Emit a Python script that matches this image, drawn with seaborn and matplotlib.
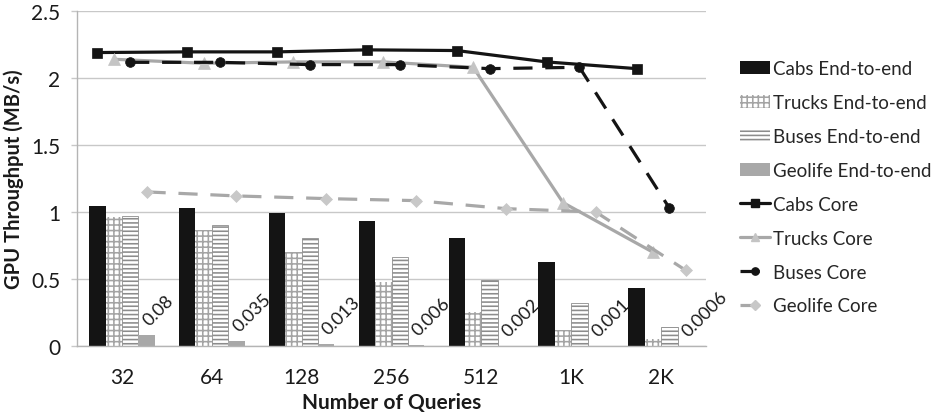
import numpy as np
import pandas as pd
import matplotlib
matplotlib.use("Agg")
import matplotlib.pyplot as plt
from matplotlib.patches import Patch
from matplotlib.lines import Line2D
import seaborn as sns

# Query counts on the x axis
categories = ["32", "64", "128", "256", "512", "1K", "2K"]

# End-to-end throughput (MB/s), drawn as bars
cabs_e2e = [1.045, 1.03, 0.99, 0.93, 0.805, 0.625, 0.435]
trucks_e2e = [0.96, 0.865, 0.70, 0.475, 0.255, 0.12, 0.055]
buses_e2e = [0.97, 0.905, 0.805, 0.665, 0.49, 0.32, 0.145]
geolife_e2e = [0.08, 0.035, 0.013, 0.006, 0.002, 0.001, 0.0006]
geolife_labels = ["0.08", "0.035", "0.013", "0.006", "0.002", "0.001", "0.0006"]

# Core throughput (MB/s), drawn as lines
cabs_core = [2.19, 2.195, 2.195, 2.21, 2.205, 2.12, 2.07]
trucks_core = [2.14, 2.11, 2.12, 2.12, 2.08, 1.07, 0.70]
buses_core = [2.117, 2.117, 2.10, 2.10, 2.07, 2.08, 1.03]
geolife_core = [1.15, 1.12, 1.10, 1.085, 1.025, 1.0, 0.565]

bar_names = ["Cabs End-to-end", "Trucks End-to-end", "Buses End-to-end", "Geolife End-to-end"]
line_names = ["Cabs Core", "Trucks Core", "Buses Core", "Geolife Core"]

sns.set_theme(style="white")
plt.rcParams["font.family"] = ["Lato", "DejaVu Sans"]
plt.rcParams["hatch.linewidth"] = 1.15

df = pd.DataFrame({
    "Queries": categories * 4,
    "value": cabs_e2e + trucks_e2e + buses_e2e + geolife_e2e,
    "series": sum([[n] * len(categories) for n in bar_names], []),
})

bar_styles = [
    dict(facecolor="#141414", edgecolor="#141414", hatch=None, lw=0.0),
    dict(facecolor="white", edgecolor="#a4a4a4", hatch="+++", lw=0.0),
    dict(facecolor="white", edgecolor="#8c8c8c", hatch="----", lw=0.6),
    dict(facecolor="#a8a8a8", edgecolor="#a8a8a8", hatch=None, lw=0.0),
]

fig = plt.figure(figsize=(9.38, 4.14), dpi=100)
ax = fig.add_axes([0.0821, 0.1618, 0.6706, 0.8092])

sns.barplot(data=df, x="Queries", y="value", hue="series", hue_order=bar_names,
            palette=[s["facecolor"] for s in bar_styles], width=0.73,
            saturation=1, errorbar=None, legend=False, ax=ax)

for cont, st in zip(ax.containers, bar_styles):
    for p in cont.patches:
        p.set_facecolor(st["facecolor"])
        p.set_edgecolor(st["edgecolor"])
        p.set_linewidth(st["lw"])
        if st["hatch"]:
            p.set_hatch(st["hatch"])

# line markers sit over the matching bar of each group
centers = [[p.get_x() + p.get_width() / 2 for p in cont.patches] for cont in ax.containers]

line_styles = [
    dict(color="#141414", ls="-", marker="s", mfc="#141414", mec="#141414", ms=7.5),
    dict(color="#a8a8a8", ls="-", marker="^", mfc="#c4c4c4", mec="#c4c4c4", ms=8),
    dict(color="#141414", ls=(0, (6, 4)), marker="o", mfc="#141414", mec="#141414", ms=7),
    dict(color="#a8a8a8", ls=(0, (6, 4)), marker="D", mfc="#c8c8c8", mec="#c8c8c8", ms=6.5),
]
for xs, ys, st in zip(centers, [cabs_core, trucks_core, buses_core, geolife_core], line_styles):
    sns.lineplot(x=xs, y=ys, sort=False, estimator=None, ax=ax, color=st["color"],
                 linestyle=st["ls"], linewidth=2.3, marker=st["marker"],
                 markerfacecolor=st["mfc"], markeredgecolor=st["mec"],
                 markersize=st["ms"], markeredgewidth=0.5, zorder=5)

# value labels above the Geolife bars
for p, txt in zip(ax.containers[3].patches, geolife_labels):
    ax.annotate(txt, (p.get_x() + p.get_width() / 2, p.get_height()),
                xytext=(3.5, 5), textcoords="offset points", rotation=45,
                rotation_mode="anchor", ha="left", va="bottom", fontsize=13,
                color="#1a1a1a", zorder=6)

ax.set_xlim(-0.5, len(categories) - 0.5)
ax.set_ylim(0, 2.5)
ax.set_yticks(np.arange(0, 2.51, 0.5))
ax.set_yticklabels(["0", "0.5", "1", "1.5", "2", "2.5"])
ax.yaxis.grid(True, color="#c8c8c8", linewidth=1.0)
ax.set_axisbelow(True)

for side in ["top", "right"]:
    ax.spines[side].set_visible(False)
for side in ["left", "bottom"]:
    ax.spines[side].set_color("#b4b4b4")
    ax.spines[side].set_linewidth(1.0)

ax.set_xticks(np.arange(len(categories)))
ax.set_xticklabels(categories)
ax.set_xticks(np.arange(-0.5, len(categories), 1.0), minor=True)
ax.tick_params(axis="x", which="major", length=0, pad=15, labelsize=15, labelcolor="#1a1a1a")
ax.tick_params(axis="x", which="minor", length=4, width=1.0, color="#b4b4b4", direction="out")
ax.tick_params(axis="y", length=4, width=1.0, color="#c8c8c8", pad=8, labelsize=15,
               labelcolor="#1a1a1a", left=True)

ax.set_xlabel("Number of Queries", fontsize=15, fontweight="bold", color="#1a1a1a", labelpad=4)
ax.set_ylabel("GPU Throughput (MB/s)", fontsize=14.5, fontweight="bold", color="#1a1a1a", labelpad=5)

handles = []
for st in bar_styles:
    handles.append(Patch(facecolor=st["facecolor"], edgecolor=st["edgecolor"],
                         hatch=st["hatch"], linewidth=0))
for st in line_styles:
    handles.append(Line2D([], [], color=st["color"], linestyle=st["ls"], linewidth=2.3,
                          marker=st["marker"], markerfacecolor=st["mfc"],
                          markeredgecolor=st["mec"], markersize=st["ms"] * 0.75))

fig.legend(handles, bar_names + line_names, loc="upper left",
           bbox_to_anchor=(0.781, 0.87), frameon=False, fontsize=13.5,
           handlelength=1.6, handleheight=0.7, handletextpad=0.15,
           labelspacing=0.9, borderaxespad=0)

fig.savefig("out.png", dpi=100)
